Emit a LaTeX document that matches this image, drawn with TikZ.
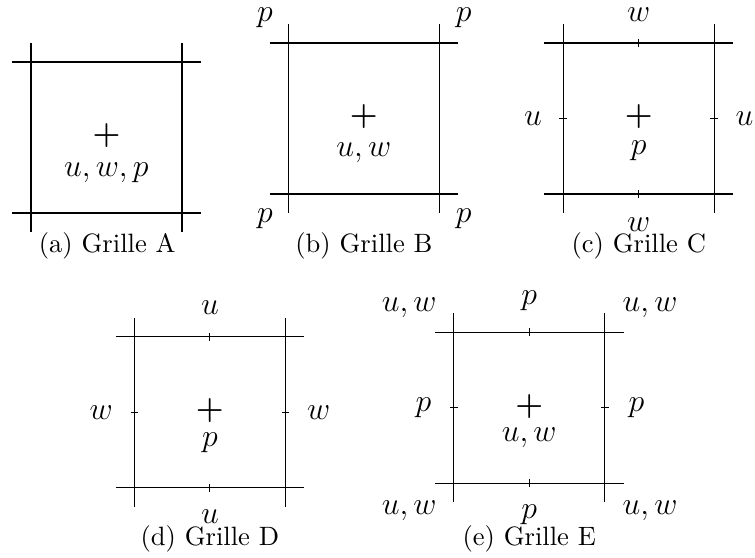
\documentclass[tikz,border=0pt]{standalone}
\usepackage{tikz}

\tikzset{
  trait/.style={line width=0.45pt},
  tic/.style={line width=0.45pt},
  croix/.style={font=\large\boldmath, inner sep=0pt},
  lab/.style={font=\large, inner sep=0pt},
  legende/.style={anchor=base, inner sep=0pt}
}

\begin{document}
\begin{tikzpicture}[line cap=butt, line join=miter]
			\useasboundingbox (0,0) rectangle (10,7.39);
			
			% Grille A : tout au centre
			\begin{scope}[shift={(1.41,5.57)}]
				\draw[trait] (-1.25,1) -- (1.25,1);
				\draw[trait] (-1.25,-1) -- (1.25,-1);
				\draw[trait] (-1,-1.25) -- (-1,1.25);
				\draw[trait] (1,-1.25) -- (1,1.25);
				\node[croix] (plusA) at (0,0.02) {$+$};
				\node[lab] (cA) at (0,-0.47) {$u,w,p$};
			\end{scope}
			\node[legende] (legA) at (1.42,4.04) {(a) Grille A};
			
			% Grille B : p aux coins
			\begin{scope}[shift={(4.82,5.82)}]
				\draw[trait] (-1.25,1) -- (1.25,1);
				\draw[trait] (-1.25,-1) -- (1.25,-1);
				\draw[trait] (-1,-1.25) -- (-1,1.25);
				\draw[trait] (1,-1.25) -- (1,1.25);
				\node[croix] (plusB) at (0,0.02) {$+$};
				\node[lab] (cB) at (0,-0.45) {$u,w$};
				\node[lab] (pB1) at (-1.31,1.33) {$p$};
				\node[lab] (pB2) at (1.32,1.33) {$p$};
				\node[lab] (pB3) at (-1.31,-1.33) {$p$};
				\node[lab] (pB4) at (1.32,-1.33) {$p$};
			\end{scope}
			\node[legende] (legB) at (4.82,4.04) {(b) Grille B};
			
			% Grille C : u et w sur les faces
			\begin{scope}[shift={(8.46,5.82)}]
				\draw[trait] (-1.25,1) -- (1.25,1);
				\draw[trait] (-1.25,-1) -- (1.25,-1);
				\draw[trait] (-1,-1.25) -- (-1,1.25);
				\draw[trait] (1,-1.25) -- (1,1.25);
				\draw[tic] (0,0.95) -- (0,1.05);
				\draw[tic] (0,-1.05) -- (0,-0.95);
				\draw[tic] (-1.05,0) -- (-0.95,0);
				\draw[tic] (0.95,0) -- (1.05,0);
				\node[croix] (plusC) at (0,0.02) {$+$};
				\node[lab] (cC) at (0,-0.43) {$p$};
				\node[lab] (wC1) at (0,1.37) {$w$};
				\node[lab] (wC2) at (0,-1.41) {$w$};
				\node[lab] (uC1) at (-1.40,0) {$u$};
				\node[lab] (uC2) at (1.40,0) {$u$};
			\end{scope}
			\node[legende] (legC) at (8.46,4.04) {(c) Grille C};
			
			% Grille D : w et u sur les faces
			\begin{scope}[shift={(2.78,1.93)}]
				\draw[trait] (-1.25,1) -- (1.25,1);
				\draw[trait] (-1.25,-1) -- (1.25,-1);
				\draw[trait] (-1,-1.25) -- (-1,1.25);
				\draw[trait] (1,-1.25) -- (1,1.25);
				\draw[tic] (0,0.95) -- (0,1.05);
				\draw[tic] (0,-1.05) -- (0,-0.95);
				\draw[tic] (-1.05,0) -- (-0.95,0);
				\draw[tic] (0.95,0) -- (1.05,0);
				\node[croix] (plusD) at (0,0.02) {$+$};
				\node[lab] (cD) at (0,-0.41) {$p$};
				\node[lab] (uD1) at (0,1.38) {$u$};
				\node[lab] (uD2) at (0,-1.38) {$u$};
				\node[lab] (wD1) at (-1.44,0) {$w$};
				\node[lab] (wD2) at (1.44,0) {$w$};
			\end{scope}
			\node[legende] (legD) at (2.78,0.16) {(d) Grille D};
			
			% Grille E : p sur les faces, u,w aux coins
			\begin{scope}[shift={(7.01,1.99)}]
				\draw[trait] (-1.25,1) -- (1.25,1);
				\draw[trait] (-1.25,-1) -- (1.25,-1);
				\draw[trait] (-1,-1.25) -- (-1,1.25);
				\draw[trait] (1,-1.25) -- (1,1.25);
				\draw[tic] (0,0.95) -- (0,1.05);
				\draw[tic] (0,-1.05) -- (0,-0.95);
				\draw[tic] (-1.05,0) -- (-0.95,0);
				\draw[tic] (0.95,0) -- (1.05,0);
				\node[croix] (plusE) at (0,0.02) {$+$};
				\node[lab] (cE) at (0,-0.40) {$u,w$};
				\node[lab] (pE1) at (0,1.42) {$p$};
				\node[lab] (pE2) at (0,-1.42) {$p$};
				\node[lab] (pE3) at (-1.40,0) {$p$};
				\node[lab] (pE4) at (1.42,0) {$p$};
				\node[lab] (uwE1) at (-1.59,1.32) {$u,w$};
				\node[lab] (uwE2) at (1.60,1.32) {$u,w$};
				\node[lab] (uwE3) at (-1.59,-1.36) {$u,w$};
				\node[lab] (uwE4) at (1.60,-1.36) {$u,w$};
			\end{scope}
			\node[legende] (legE) at (7.01,0.16) {(e) Grille E};
			
		\end{tikzpicture}
\end{document}
